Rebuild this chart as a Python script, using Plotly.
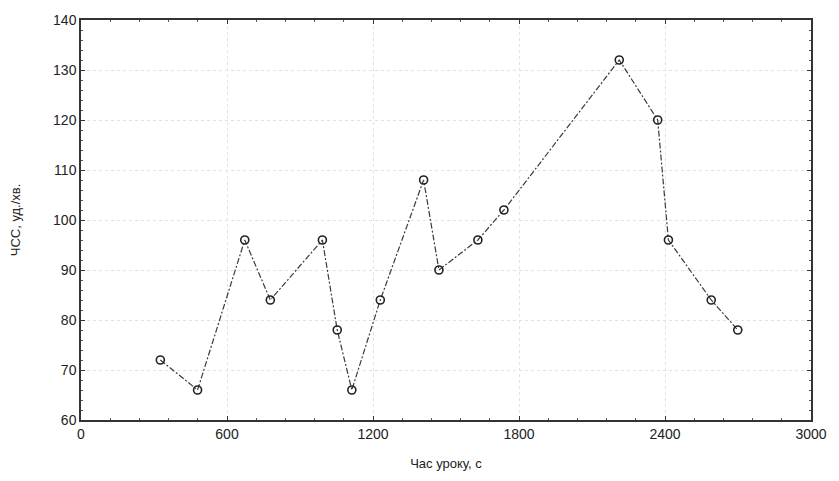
import plotly.graph_objects as go

time_s = [326, 479, 673, 778, 992, 1053, 1113, 1230, 1408, 1471, 1631, 1738, 2212, 2370, 2414, 2590, 2699]
hr = [72, 66, 96, 84, 96, 78, 66, 84, 108, 90, 96, 102, 132, 120, 96, 84, 78]

x_ticks = [0, 600, 1200, 1800, 2400, 3000]
y_ticks = [60, 70, 80, 90, 100, 110, 120, 130, 140]

fig = go.Figure()
fig.add_trace(go.Scatter(
    x=time_s, y=hr, mode="lines+markers",
    line=dict(color="#3a3a3a", width=1.2, dash="6px,2px,2px,2px"),
    marker=dict(symbol="circle-open", size=8, color="#222", line=dict(width=1.6, color="#222")),
    showlegend=False,
))

font = dict(family="Liberation Sans, Arial, sans-serif", size=14, color="#222")
axis_common = dict(
    showline=True, linecolor="#333", linewidth=1.5, mirror="allticks",
    ticks="inside", ticklen=4, tickcolor="#333", tickwidth=1,
    showgrid=True, gridcolor="#e2e2e2", griddash="dot", gridwidth=1,
    zeroline=False, tickfont=font,
)
fig.update_xaxes(range=[0, 3000], tickvals=x_ticks, ticktext=[str(v) for v in x_ticks],
                 minor=dict(ticks="inside", ticklen=2, tickcolor="#555", dtick=120, showgrid=False),
                 title=dict(text="Час уроку, с", font=dict(family=font["family"], size=13, color="#222"), standoff=18),
                 **axis_common)
fig.update_yaxes(range=[60, 140], tickvals=y_ticks, ticktext=[str(v) for v in y_ticks],
                 minor=dict(ticks="inside", ticklen=2, tickcolor="#555", dtick=2, showgrid=False),
                 title=dict(text="ЧСС, уд./хв.", font=dict(family=font["family"], size=13, color="#222"), standoff=30),
                 **axis_common)
fig.update_layout(
    width=839, height=481,
    margin=dict(l=81, r=19, t=16, b=53),
    paper_bgcolor="white", plot_bgcolor="white",
)
fig.write_html("out.html", post_script="document.body.style.margin='0';document.body.style.overflow='hidden';")
